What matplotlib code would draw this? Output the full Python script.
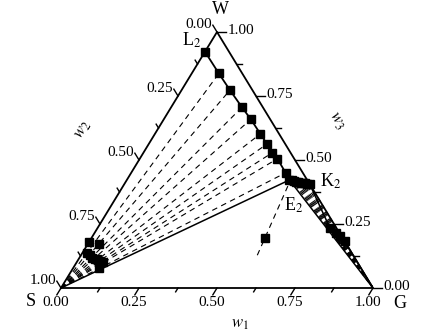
import numpy as np
import matplotlib.pyplot as plt

plt.rcParams['font.family'] = ['Liberation Serif', 'DejaVu Serif']
plt.rcParams['mathtext.fontset'] = 'stix'

# binodal curve, L2 -> E2 (mass fractions w1, w3)
bin_w1 = [0.000, 0.087, 0.155, 0.227, 0.279, 0.338, 0.379, 0.413, 0.441, 0.495]
bin_w3 = [0.923, 0.838, 0.773, 0.706, 0.659, 0.602, 0.5625, 0.5285, 0.505, 0.450]

# E2 -> K2 points
ek_w1 = [0.521, 0.530, 0.538, 0.546, 0.554, 0.562, 0.570, 0.578, 0.586, 0.594]
ek_w3 = [0.422, 0.420, 0.418, 0.416, 0.414, 0.412, 0.410, 0.409, 0.407, 0.406]

# branch K2 -> G
kg_w1 = [0.746, 0.776, 0.792, 0.817]
kg_w3 = [0.233, 0.214, 0.203, 0.184]

# points near the S corner
s_w1 = [0.000, 0.034, 0.015, 0.030, 0.039, 0.050, 0.058, 0.070, 0.084, 0.081]
s_w3 = [0.178, 0.173, 0.136, 0.128, 0.118, 0.115, 0.112, 0.107, 0.103, 0.079]

# extra dashed line below E2 and its point
ext_w1 = [0.528, 0.566]
ext_w3 = [0.398, 0.122]
ext_pt = (0.556, 0.196)

ticks = [0.0, 0.25, 0.5, 0.75, 1.0]
minor = [0.125, 0.375, 0.625, 0.875]
tick_labels = ["0.00", "0.25", "0.50", "0.75", "1.00"]


def tern(w1, w3):
    w1 = np.asarray(w1, dtype=float)
    w3 = np.asarray(w3, dtype=float)
    return w1 + w3 / 2, w3


fig = plt.figure(figsize=(4.26, 3.35), dpi=100)
ax = fig.add_axes([61 / 426, 47 / 335, 312 / 426, 256 / 335])
ax.set_xlim(0, 1)
ax.set_ylim(0, 1)
ax.axis('off')

# frame
fx, fy = tern([0, 1, 0, 0], [0, 0, 1, 0])
ax.plot(fx, fy, color='black', lw=1.3, clip_on=False, zorder=3)

# ticks (px lengths converted to data)
px = 1 / 312
py = 1 / 256
t_maj = 8 / np.hypot(156, 256)
t_min = 4.5 / np.hypot(156, 256)
for vals, t in ((ticks, t_maj), (minor, t_min)):
    for v in vals:
        # bottom (w1), slanted down-left
        ax.plot([v, v - t / 2], [0, -t], color='black', lw=1.0, clip_on=False)
        # left (w2), slanted up-left
        w3 = 1 - v
        ax.plot([w3 / 2, w3 / 2 - t / 2], [w3, w3 + t], color='black', lw=1.0, clip_on=False)
        # right (w3), horizontal
        L = (9 if t == t_maj else 5) * px
        ax.plot([1 - v / 2, 1 - v / 2 + L], [v, v], color='black', lw=1.0, clip_on=False)

for v, lab in zip(ticks, tick_labels):
    ax.text(v - 5 * px, -14.5 * py, lab, ha='center', va='center', fontsize=11)
    w3 = 1 - v
    ax.text(w3 / 2 - 18.5 * px, w3 + 8 * py, lab, ha='center', va='center', fontsize=11)
    ax.text(1 - v / 2 + 24 * px, v + 1.5 * py, lab, ha='center', va='center', fontsize=11)

# tie lines from S
bx, by = tern(bin_w1, bin_w3)
for x, y in zip(bx[1:], by[1:]):
    ax.plot([0, x], [0, y], color='black', lw=0.8, ls=(0, (5, 4)))

# tie lines from G
ex, ey = tern(ek_w1, ek_w3)
for x, y in zip(ex[1:], ey[1:]):
    ax.plot([1, x], [0, y], color='black', lw=0.8, ls=(0, (4, 3)))

# three-phase triangle S-E2-G
e2x, e2y = tern(ek_w1[0], ek_w3[0])
ax.plot([0, e2x, 1], [0, e2y, 0], color='black', lw=1.1)

# binodal curve
cx = np.concatenate([bx, ex])
cy = np.concatenate([by, ey])
ax.plot(cx, cy, color='black', lw=1.3, zorder=4)
gx, gy = tern(kg_w1, kg_w3)
ax.plot(np.concatenate([[ex[-1]], gx, [1]]), np.concatenate([[ey[-1]], gy, [0]]),
        color='black', lw=1.1, zorder=4)

ms = 5.3
ax.plot(bx, by, 's', color='black', ms=ms, zorder=5, clip_on=False)
ax.plot(ex, ey, 's', color='black', ms=ms, zorder=5)
ax.plot(gx, gy, 's', color='black', ms=ms, zorder=5)
sx, sy = tern(s_w1, s_w3)
ax.plot(sx, sy, 's', color='black', ms=ms, zorder=5)

# extra dashed line
lx, ly = tern(ext_w1, ext_w3)
ax.plot(lx, ly, color='black', lw=0.8, ls=(0, (5, 4)))
qx, qy = tern(*ext_pt)
ax.plot([qx], [qy], 's', color='black', ms=ms)

# labels
ax.text((220 - 61) * px, (288 - 10) * py, "W", ha='center', va='center', fontsize=13)
ax.text((31 - 61) * px, (288 - 302) * py, "S", ha='center', va='center', fontsize=13)
ax.text((400 - 61) * px, (288 - 303) * py, "G", ha='center', va='center', fontsize=13)
ax.text((192 - 61) * px, (288 - 40) * py, "L$_2$", ha='center', va='center', fontsize=13)
ax.text((331 - 61) * px, (288 - 181) * py, "K$_2$", ha='center', va='center', fontsize=13)
ax.text((294 - 61) * px, (288 - 205) * py, "E$_2$", ha='center', va='center', fontsize=13)

ax.text((240 - 61) * px, (288 - 324) * py, "$w_1$", ha='center', va='center', fontsize=12)
ax.text((83 - 61) * px, (288 - 130) * py, "$w_2$", ha='center', va='center', fontsize=12,
        rotation=58.6)
ax.text((337 - 61) * px, (288 - 121) * py, "$w_3$", ha='center', va='center', fontsize=12,
        rotation=-58.6)

fig.savefig("out.png", dpi=100)
